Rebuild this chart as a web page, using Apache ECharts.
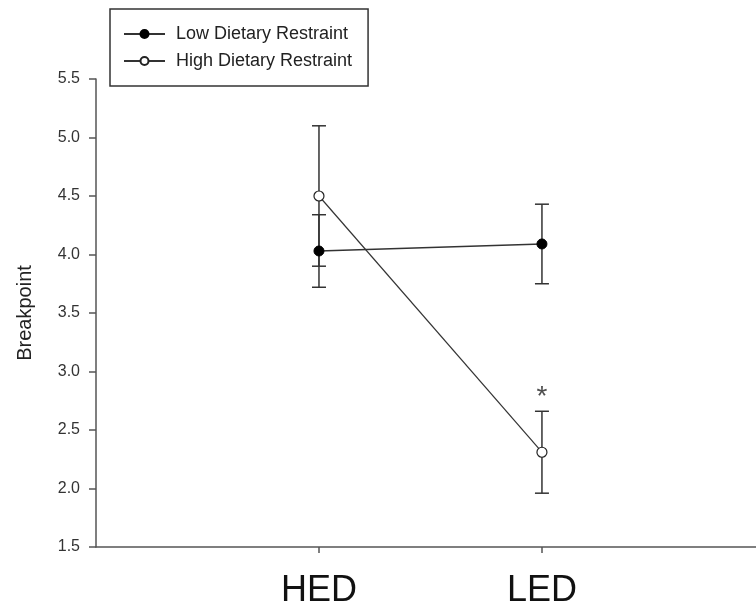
<!DOCTYPE html>
<html>
  <head>
    <meta charset="utf-8">
    <title>Breakpoint</title>
    <script src="https://cdn.jsdelivr.net/npm/echarts@6/dist/echarts.min.js"></script>
    <style>
      html, body { margin: 0; padding: 0; background: #fff; }
      #chart { width: 756px; height: 612px; }
    </style>
  </head>
  <body>
    <div id="chart"></div>
    <script type="text/javascript">
      // data
      var categories = ["HED", "LED"];
      var xPos = [1, 2];
      var yTicks = [1.5, 2.0, 2.5, 3.0, 3.5, 4.0, 4.5, 5.0, 5.5];
      var lowMean = [4.03, 4.09];
      var lowErr = [0.31, 0.34];
      var highMean = [4.50, 2.31];
      var highErr = [0.60, 0.35];
      var starAt = [2, 2.78];

      var font = "Arial, 'Liberation Sans', sans-serif";
      var myChart = echarts.init(document.getElementById("chart"));

      function pairs(ys){
        var out = [];
        for (var i = 0; i < ys.length; i++) out.push([xPos[i], ys[i]]);
        return out;
      }
      function errs(ys, es){
        var out = [];
        for (var i = 0; i < ys.length; i++) out.push([xPos[i], ys[i] - es[i], ys[i] + es[i]]);
        return out;
      }

      function drawErr(params, api){
        var lo = api.coord([api.value(0), api.value(1)]);
        var hi = api.coord([api.value(0), api.value(2)]);
        var w = 7;
        var st = { stroke: "#333", lineWidth: 1.5 };
        return {
          type: "group",
          children: [
            { type: "line", shape: { x1: lo[0], y1: lo[1], x2: hi[0], y2: hi[1] }, style: st },
            { type: "line", shape: { x1: lo[0] - w, y1: lo[1], x2: lo[0] + w, y2: lo[1] }, style: st },
            { type: "line", shape: { x1: hi[0] - w, y1: hi[1], x2: hi[0] + w, y2: hi[1] }, style: st }
          ]
        };
      }

      var option = {
        animation: false,
        backgroundColor: "#fff",
        textStyle: { fontFamily: font },
        grid: { left: 96, right: 0, top: 79, bottom: 65 },
        legend: {
          data: ["Low Dietary Restraint", "High Dietary Restraint"],
          orient: "vertical",
          left: 110,
          top: 9,
          padding: [15, 16, 15, 13],
          borderColor: "#333",
          borderWidth: 1.5,
          itemWidth: 41,
          itemHeight: 10,
          itemGap: 7,
          textStyle: { fontSize: 18, color: "#222", fontFamily: font, padding: [0, 0, 0, 6], lineHeight: 20 }
        },
        xAxis: {
          type: "value",
          min: 0,
          max: 2.96,
          splitLine: { show: false },
          axisLine: { lineStyle: { color: "#555", width: 1.5 } },
          axisTick: { show: true, customValues: xPos, length: 6, lineStyle: { color: "#555", width: 1.5 } },
          axisLabel: {
            customValues: xPos,
            margin: 26,
            fontSize: 36,
            color: "#111",
            fontFamily: font,
            formatter: function(v){ return categories[xPos.indexOf(v)] || ""; }
          }
        },
        yAxis: {
          type: "value",
          min: yTicks[0],
          max: yTicks[yTicks.length - 1],
          interval: 0.5,
          name: "Breakpoint",
          nameLocation: "middle",
          nameGap: 61,
          nameTextStyle: { fontSize: 20, color: "#222", fontFamily: font },
          splitLine: { show: false },
          axisLine: { show: true, lineStyle: { color: "#555", width: 1.5 } },
          axisTick: { show: true, length: 7, lineStyle: { color: "#555", width: 1.5 } },
          axisLabel: {
            margin: 16,
            fontSize: 16,
            color: "#333",
            fontFamily: font,
            formatter: function(v){ return v.toFixed(1); }
          }
        },
        series: [
          {
            type: "custom",
            name: "errLow",
            renderItem: drawErr,
            data: errs(lowMean, lowErr),
            z: 1
          },
          {
            type: "custom",
            name: "errHigh",
            renderItem: drawErr,
            data: errs(highMean, highErr),
            z: 1
          },
          {
            type: "line",
            name: "Low Dietary Restraint",
            data: pairs(lowMean),
            symbol: "circle",
            symbolSize: 10,
            lineStyle: { color: "#333", width: 1.5 },
            itemStyle: { color: "#000", borderColor: "#000", borderWidth: 1 },
            z: 3
          },
          {
            type: "line",
            name: "High Dietary Restraint",
            data: pairs(highMean),
            symbol: "circle",
            symbolSize: 10,
            lineStyle: { color: "#333", width: 1.2 },
            itemStyle: { color: "#fff", borderColor: "#222", borderWidth: 1.2 },
            z: 4
          },
          {
            type: "scatter",
            name: "sig",
            data: [starAt],
            symbolSize: 1,
            itemStyle: { color: "rgba(0,0,0,0)" },
            label: {
              show: true,
              position: "inside",
              formatter: "*",
              fontSize: 28,
              color: "#222",
              fontFamily: font
            }
          }
        ]
      };

      myChart.setOption(option);
    </script>
  </body>
</html>
